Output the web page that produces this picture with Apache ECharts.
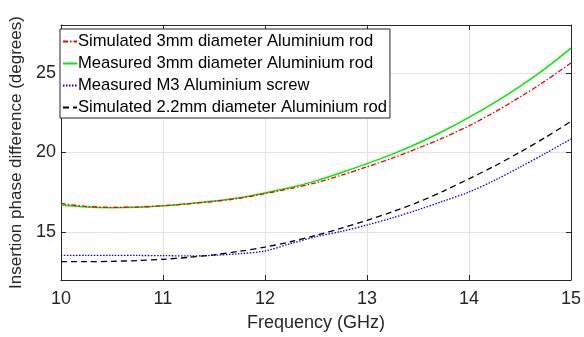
<!DOCTYPE html>
<html>
<head>
<meta charset="utf-8">
<script src="https://cdn.jsdelivr.net/npm/echarts@6/dist/echarts.min.js"></script>
<style>
html,body{margin:0;padding:0;background:#fff;}
#chart{width:584px;height:337px;}
</style>
</head>
<body>
<div id="chart"></div>
<script>
var freqs = [10,10.25,10.5,10.75,11,11.25,11.5,11.75,12,12.25,12.5,12.75,13,13.25,13.5,13.75,14,14.25,14.5,14.75,15];
var sim3mm = [16.8,16.62,16.56,16.58,16.66,16.78,16.93,17.13,17.42,17.74,18.1,18.58,19.1,19.65,20.27,20.93,21.67,22.53,23.48,24.5,25.62];
var meas3mm = [16.7,16.58,16.54,16.57,16.66,16.79,16.95,17.16,17.46,17.8,18.22,18.74,19.3,19.9,20.58,21.35,22.2,23.13,24.15,25.28,26.55];
var measM3 = [13.55,13.55,13.55,13.54,13.53,13.51,13.55,13.65,13.82,14.28,14.72,15.05,15.45,15.9,16.4,16.95,17.52,18.25,19.08,19.95,20.85];
var sim22mm = [13.15,13.15,13.17,13.22,13.3,13.42,13.58,13.8,14.06,14.4,14.8,15.25,15.74,16.28,16.88,17.58,18.35,19.15,20.02,20.95,21.95];
var seriesNames = ['Simulated 3mm diameter Aluminium rod','Measured 3mm diameter Aluminium rod','Measured M3 Aluminium screw','Simulated 2.2mm diameter Aluminium rod'];
var xTicks = [10,11,12,13,14,15];
var yTicks = [15,20,25];

function pairs(ys){ return freqs.map(function(f,i){ return [f, ys[i]]; }); }

var FONT = 'Liberation Sans, Arial, Helvetica, sans-serif';
var AX = '#262626';
var GRID = '#e3e3e3';

var chart = echarts.init(document.getElementById('chart'), null, {renderer:'canvas'});
var option = {
  animation: false,
  backgroundColor: '#ffffff',
  textStyle: {fontFamily: FONT},
  grid: {left: 56, top: 25, right: 10, bottom: 53, containLabel: false},
  legend: {
    orient: 'vertical', left: 60, top: 29,
    data: seriesNames,
    backgroundColor: '#ffffff', borderColor: AX, borderWidth: 1,
    padding: [3, 3, 1, 2], itemGap: 3, itemWidth: 14, itemHeight: 10,
    itemStyle: {opacity: 0},
    textStyle: {fontFamily: FONT, fontSize: 16.6, color: '#000', lineHeight: 19, padding: [0,0,0,-4]}
  },
  xAxis: [{
    type: 'value', min: 10, max: 15, interval: 1,
    name: 'Frequency (GHz)', nameLocation: 'middle', nameGap: 34,
    nameTextStyle: {fontFamily: FONT, fontSize: 18, color: AX},
    axisLine: {show: true, onZero: false, lineStyle: {color: AX, width: 1}},
    axisTick: {show: true, inside: true, length: 5, lineStyle: {color: AX}},
    axisLabel: {fontFamily: FONT, fontSize: 18, color: AX, margin: 10, customValues: xTicks},
    splitLine: {show: true, lineStyle: {color: GRID, width: 1}}
  }, {
    type: 'value', min: 10, max: 15, interval: 1, position: 'top',
    axisLine: {show: true, onZero: false, lineStyle: {color: AX, width: 1}},
    axisTick: {show: true, inside: true, length: 5, lineStyle: {color: AX}},
    axisLabel: {show: false}, splitLine: {show: false}
  }],
  yAxis: [{
    type: 'value', min: 12, max: 28,
    name: 'Insertion phase difference (degrees)', nameLocation: 'middle', nameGap: 28,
    nameTextStyle: {fontFamily: FONT, fontSize: 17, color: AX},
    axisLine: {show: true, onZero: false, lineStyle: {color: AX, width: 1}},
    axisTick: {show: true, inside: true, length: 5, lineStyle: {color: AX}, customValues: yTicks},
    axisLabel: {fontFamily: FONT, fontSize: 18, color: AX, margin: 5, customValues: yTicks},
    splitLine: {show: true, lineStyle: {color: GRID, width: 1}}
  }, {
    type: 'value', min: 12, max: 28, position: 'right',
    axisLine: {show: true, onZero: false, lineStyle: {color: AX, width: 1}},
    axisTick: {show: true, inside: true, length: 5, lineStyle: {color: AX}, customValues: yTicks},
    axisLabel: {show: false, customValues: yTicks}, splitLine: {show: false}
  }],
  series: [
    {name: seriesNames[0], type: 'line', data: pairs(sim3mm), symbol: 'none', smooth: 0.3, z: 4,
     lineStyle: {color: '#ff0000', width: 1.3, type: [5, 2, 1.5, 2]}, itemStyle: {color: '#ff0000'}},
    {name: seriesNames[1], type: 'line', data: pairs(meas3mm), symbol: 'none', smooth: 0.3, z: 3,
     lineStyle: {color: '#00ee00', width: 1.5, type: 'solid'}, itemStyle: {color: '#00ee00'}},
    {name: seriesNames[2], type: 'line', data: pairs(measM3), symbol: 'none', smooth: 0.3, z: 3,
     lineStyle: {color: '#0000ff', width: 1.3, type: [1.5, 1.5]}, itemStyle: {color: '#0000ff'}},
    {name: seriesNames[3], type: 'line', data: pairs(sim22mm), symbol: 'none', smooth: 0.3, z: 3,
     lineStyle: {color: '#000000', width: 1.3, type: [6, 4]}, itemStyle: {color: '#000000'}}
  ]
};
chart.setOption(option);
</script>
</body>
</html>
